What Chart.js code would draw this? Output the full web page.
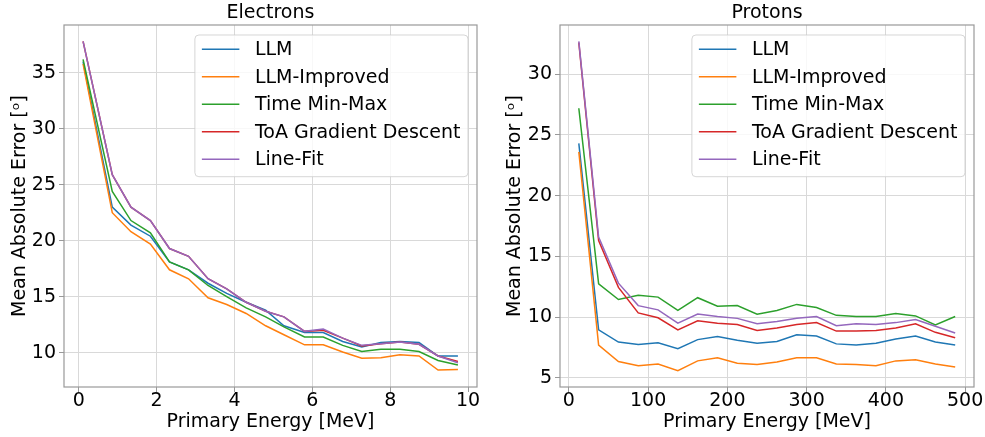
<!DOCTYPE html>
<html>
<head>
<meta charset="utf-8">
<script src="https://cdn.jsdelivr.net/npm/chart.js@4.4.1/dist/chart.umd.min.js"></script>
<style>
  body { margin: 0; background: #fff; }
  #wrap { position: relative; width: 985px; height: 437px; }
  canvas { position: absolute; top: 0; }
</style>
</head>
<body>
<div id="wrap">
  <canvas id="electrons" width="490" height="437" style="left:0"></canvas>
  <canvas id="protons" width="495" height="437" style="left:490px"></canvas>
</div>
<script>
const seriesNames = ["LLM", "LLM-Improved", "Time Min-Max", "ToA Gradient Descent", "Line-Fit"];
const seriesColors = ["#1f77b4", "#ff7f0e", "#2ca02c", "#d62728", "#9467bd"];

// Electrons
const energyE = [0.11, 0.86, 1.34, 1.84, 2.33, 2.82, 3.32, 3.8, 4.3, 4.8, 5.27, 5.8, 6.28, 6.78, 7.27, 7.76, 8.25, 8.74, 9.23, 9.74];
const llmE = [36.0, 23.0, 21.4, 20.4, 18.1, 17.4, 16.2, 15.3, 14.5, 13.8, 12.4, 11.8, 11.8, 11.0, 10.5, 10.9, 11.0, 10.9, 9.7, 9.7];
const improvedE = [35.8, 22.5, 20.8, 19.7, 17.4, 16.6, 14.9, 14.3, 13.5, 12.4, 11.6, 10.7, 10.7, 10.05, 9.5, 9.55, 9.8, 9.7, 8.45, 8.5];
const minMaxE = [36.2, 24.4, 21.8, 20.7, 18.1, 17.4, 16.0, 15.0, 14.0, 13.2, 12.3, 11.4, 11.4, 10.65, 10.1, 10.3, 10.3, 10.1, 9.3, 8.9];
const toaE = [37.8, 25.9, 23.0, 21.8, 19.3, 18.6, 16.6, 15.7, 14.5, 13.7, 13.2, 11.9, 12.0, 11.3, 10.6, 10.8, 10.95, 10.75, 9.7, 9.2];
const lineFitE = [37.8, 25.9, 23.0, 21.8, 19.3, 18.6, 16.6, 15.7, 14.5, 13.7, 13.2, 11.9, 12.1, 11.3, 10.65, 10.8, 10.95, 10.75, 9.7, 9.1];
const xTicksE = [0, 2, 4, 6, 8, 10];
const yTicksE = [10, 15, 20, 25, 30, 35];

// Protons
const energyP = [12.5, 37.5, 62.5, 87.5, 112.5, 137.5, 162.5, 187.5, 212.5, 237.5, 262.5, 287.5, 312.5, 337.5, 362.5, 387.5, 412.5, 437.5, 462.5, 487.5];
const llmP = [24.3, 8.95, 7.95, 7.75, 7.9, 7.4, 8.15, 8.4, 8.1, 7.85, 8.0, 8.55, 8.45, 7.8, 7.7, 7.85, 8.2, 8.45, 7.95, 7.7];
const improvedP = [23.6, 7.7, 6.35, 6.0, 6.15, 5.6, 6.4, 6.65, 6.2, 6.1, 6.3, 6.65, 6.65, 6.15, 6.1, 6.0, 6.4, 6.5, 6.15, 5.9];
const minMaxP = [27.2, 12.75, 11.45, 11.8, 11.65, 10.55, 11.6, 10.9, 10.95, 10.25, 10.55, 11.05, 10.8, 10.15, 10.05, 10.05, 10.3, 10.1, 9.35, 10.05];
const toaP = [32.6, 16.3, 12.45, 10.35, 9.95, 8.95, 9.7, 9.5, 9.4, 8.9, 9.1, 9.4, 9.55, 8.85, 8.85, 8.9, 9.1, 9.45, 8.75, 8.3];
const lineFitP = [32.7, 16.6, 12.8, 10.95, 10.6, 9.5, 10.25, 10.05, 9.9, 9.45, 9.65, 9.9, 10.05, 9.3, 9.45, 9.4, 9.55, 9.8, 9.25, 8.7];
const xTicksP = [0, 100, 200, 300, 400, 500];
const yTicksP = [5, 10, 15, 20, 25, 30];

const FS = 19;
Chart.defaults.font.family = "'DejaVu Sans', sans-serif";
Chart.defaults.font.size = FS;
Chart.defaults.color = "#000";

// axes frame on all four sides
const framePlugin = {
  id: "frame",
  afterDatasetsDraw(chart) {
    const { ctx, chartArea: a } = chart;
    ctx.save();
    ctx.strokeStyle = "#999";
    ctx.lineWidth = 1.2;
    ctx.strokeRect(a.left, a.top, a.right - a.left, a.bottom - a.top);
    ctx.restore();
  },
};

// matplotlib style legend in the upper right corner
const boxLegend = {
  id: "boxLegend",
  afterDraw(chart) {
    const { ctx, chartArea: a } = chart;
    const sets = chart.data.datasets;
    ctx.save();
    ctx.font = FS + "px 'DejaVu Sans'";
    let maxW = 0;
    sets.forEach((ds) => (maxW = Math.max(maxW, ctx.measureText(ds.label).width)));
    const w = 60 + maxW + 7.5;
    const h = 141.7;
    const x = a.right - 9 - w;
    const y = a.top + 10;
    ctx.beginPath();
    ctx.roundRect(x, y, w, h, 4);
    ctx.fillStyle = "rgba(255,255,255,0.8)";
    ctx.fill();
    ctx.strokeStyle = "rgba(204,204,204,0.8)";
    ctx.lineWidth = 1;
    ctx.stroke();
    sets.forEach((ds, i) => {
      const ly = y + 14.3 + i * 27.5;
      ctx.beginPath();
      ctx.moveTo(x + 7, ly);
      ctx.lineTo(x + 44.5, ly);
      ctx.strokeStyle = ds.borderColor;
      ctx.lineWidth = 1.5;
      ctx.stroke();
      ctx.fillStyle = "#000";
      ctx.textBaseline = "middle";
      ctx.fillText(ds.label, x + 60, ly + 1);
    });
    ctx.restore();
  },
};

function makeChart(id, title, xs, series, xTicks, yTicks, xRange, yRange, yWidth, yTitlePad, padRight) {
  const datasets = series.map((vals, i) => ({
    label: seriesNames[i],
    data: vals.map((v, j) => ({ x: xs[j], y: v })),
    borderColor: seriesColors[i],
    backgroundColor: seriesColors[i],
    borderWidth: 1.5,
    pointRadius: 0,
    tension: 0,
    fill: false,
    order: series.length - i, // later series on top, like matplotlib
  }));
  const grid = { color: "#d9d9d9", lineWidth: 1, tickColor: "#999", tickLength: 5 };
  return new Chart(document.getElementById(id), {
    type: "line",
    data: { datasets },
    options: {
      responsive: false,
      animation: false,
      layout: { padding: { left: 0, right: padRight, top: 0, bottom: 0 } },
      scales: {
        x: {
          type: "linear",
          min: xRange[0],
          max: xRange[1],
          grid: grid,
          border: { display: false },
          ticks: { padding: -2, maxRotation: 0 },
          afterBuildTicks: (s) => { s.ticks = xTicks.map((v) => ({ value: v })); },
          afterFit: (s) => { s.height = 50; },
          title: { display: true, text: "Primary Energy [MeV]", font: { size: FS }, padding: { top: 0, bottom: 4 } },
        },
        y: {
          type: "linear",
          min: yRange[0],
          max: yRange[1],
          grid: grid,
          border: { display: false },
          ticks: { padding: 3 },
          afterBuildTicks: (s) => { s.ticks = yTicks.map((v) => ({ value: v })); },
          afterFit: (s) => { s.width = yWidth; },
          title: { display: true, text: "Mean Absolute Error [ᵒ]", font: { size: FS }, padding: { top: yTitlePad, bottom: 0 } },
        },
      },
      plugins: {
        legend: { display: false },
        tooltip: { enabled: false },
        title: {
          display: true,
          text: title,
          fullSize: false,
          color: "#000",
          font: { size: FS, weight: "normal", lineHeight: 22 / FS },
          padding: { top: 2, bottom: 1 },
        },
      },
    },
    plugins: [framePlugin, boxLegend],
  });
}

makeChart("electrons", "Electrons", energyE,
  [llmE, improvedE, minMaxE, toaE, lineFitE],
  xTicksE, yTicksE, [-0.38, 10.23], [6.93, 39.27], 64, 8.5, 13);

makeChart("protons", "Protons", energyP,
  [llmP, improvedP, minMaxP, toaP, lineFitP],
  xTicksP, yTicksP, [-11.25, 511.25], [4.25, 34.05], 70, 13.5, 11);
</script>
</body>
</html>
